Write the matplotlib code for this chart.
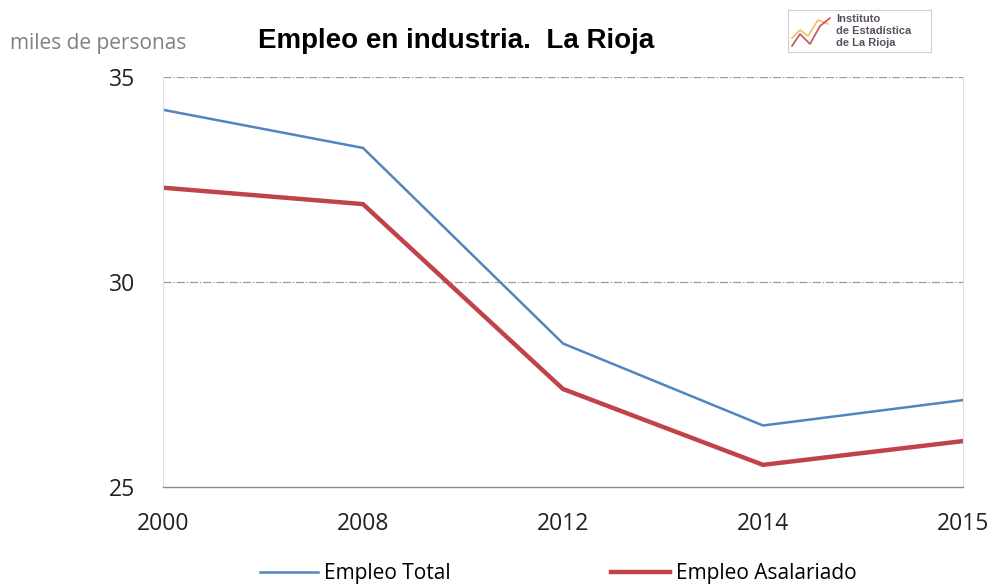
import matplotlib.pyplot as plt

plt.rc("font", family="Open Sans")

years = ["2000", "2008", "2012", "2014", "2015"]
empleo_total = [34.2, 33.27, 28.5, 26.5, 27.12]
empleo_asalariado = [32.3, 31.9, 27.39, 25.54, 26.12]

fig = plt.figure(figsize=(9.95, 5.86), dpi=100)
ax = fig.add_axes([163 / 995, 1 - 487 / 586, 800 / 995, 410 / 586])

x = range(len(years))
ax.plot(x, empleo_total, color="#4f86c0", linewidth=1.8, label="Empleo Total")
ax.plot(x, empleo_asalariado, color="#c0434a", linewidth=3.2, label="Empleo Asalariado")

ax.set_xlim(0, len(years) - 1)
ax.set_ylim(25, 35)
ax.set_yticks([25, 30, 35])
ax.set_xticks(list(x))
ax.set_xticklabels(years)
ax.tick_params(axis="both", length=0, labelsize=16.5, colors="#222222")
ax.tick_params(axis="x", pad=18)
ax.tick_params(axis="y", pad=20)

for yv in [30, 35]:
    ax.axhline(yv, color="#9a9a9a", linewidth=0.9, linestyle="-.", zorder=0)

for s in ["left", "right", "top"]:
    ax.spines[s].set_color("#e0e0e0")
    ax.spines[s].set_linewidth(0.8)
ax.spines["top"].set_visible(False)
ax.spines["bottom"].set_color("#8a8a8a")
ax.spines["bottom"].set_linewidth(1.0)

fig.text(10 / 995, 1 - 44 / 586, "miles de personas", fontsize=15, color="#808080", va="center")
fig.text(456 / 995, 1 - 41 / 586, "Empleo en industria.  La Rioja", fontsize=20,
         fontweight="bold", family="Liberation Sans", ha="center", va="center")

# logo box
logo = fig.add_axes([788 / 995, 1 - 52 / 586, 143 / 995, 42 / 586])
logo.set_xlim(0, 143)
logo.set_ylim(42, 0)
logo.set_xticks([])
logo.set_yticks([])
for s in logo.spines.values():
    s.set_color("#d0d0d0")
logo.plot([4, 12, 20, 30, 40], [28, 20, 26, 10, 14], color="#f0c060", linewidth=1.2)
logo.plot([4, 12, 22, 32, 42], [36, 24, 34, 16, 8], color="#c8505a", linewidth=1.2)
for ty, txt in zip([9, 21, 33], ["Instituto", "de Estadística", "de La Rioja"]):
    logo.text(48, ty, txt, fontsize=8, fontweight="bold", color="#5a5060",
              family="Liberation Sans", va="center")

fig.legend(loc="center", bbox_to_anchor=(0.561, 1 - 574 / 586), ncol=2, frameon=False,
           fontsize=15, handlelength=2.8, columnspacing=7.7, handletextpad=0.3)

fig.savefig("out.png", dpi=100)
